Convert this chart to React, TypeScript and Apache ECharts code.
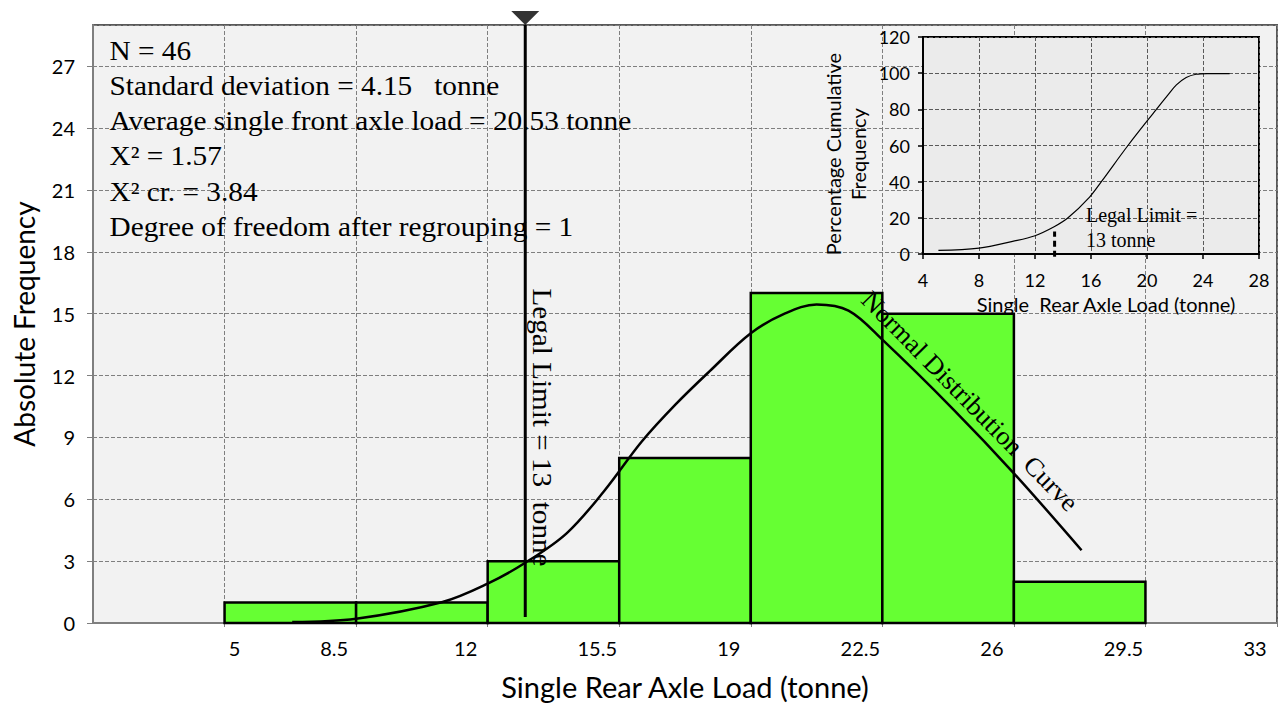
import React, { useEffect, useRef } from "react";
import * as echarts from "echarts";

// Histogram bins (tonne) and absolute frequencies
const binStarts = [5, 8.5, 12, 15.5, 19, 22.5, 26];
const binEnds = [8.5, 12, 15.5, 19, 22.5, 26, 29.5];
const frequencies = [1, 1, 3, 8, 16, 15, 2];

// Normal distribution curve
const normalX = [6.8, 8.5, 10.8, 12, 13, 14.1, 15.1, 16.1, 17, 17.9, 19, 19.9, 20.75, 21.6, 22.5, 24.4, 26, 27.8];
const normalY = [0.05, 0.21, 1.02, 1.91, 2.92, 4.35, 6.4, 8.8, 10.6, 12.2, 14.05, 15.0, 15.45, 15.15, 13.74, 10.34, 7.26, 3.53];

// Inset cumulative frequency curve
const cumX = [5.1, 8, 10.4, 12, 13.4, 14.36, 15.9, 16.74, 18.64, 20.67, 21.5, 22.1, 22.8, 23.5, 24.3, 25.9];
const cumY = [2, 3.3, 7, 10.1, 15.2, 20, 31.5, 40, 60, 80, 88, 93.5, 97.6, 99.4, 99.8, 99.8];

const legalLimit = 13;
const legalLineBottom = 0.29;
const insetLegalLimit = 13.4;
const insetLegalTop = 12.5;

const statsLines = [
  "N = 46",
  "Standard deviation = 4.15   tonne",
  "Average single front axle load = 20.53 tonne",
  "X² = 1.57",
  "X² cr. = 3.84",
  "Degree of freedom after regrouping = 1",
];

const SANS = "Lato, 'Open Sans', sans-serif";
const SERIF = "'Liberation Serif', 'Times New Roman', serif";

export default function App() {
  const ref = useRef<HTMLDivElement>(null);

  useEffect(() => {
    if (!ref.current) return;
    const chart = echarts.init(ref.current, null, { renderer: "svg" });

    const option: any = {
      animation: false,
      backgroundColor: "#ffffff",
      grid: [
        {
          left: 93,
          top: 25,
          right: 3,
          bottom: 83,
          show: true,
          backgroundColor: "#f2f2f2",
          borderColor: "#595959",
          borderWidth: 2,
          z: 0,
        },
        {
          left: 923,
          top: 37,
          width: 336,
          height: 217,
          show: true,
          backgroundColor: "#ebebeb",
          borderColor: "#000",
          borderWidth: 2,
          z: 1,
        },
      ],
      xAxis: [
        {
          type: "value",
          gridIndex: 0,
          min: 1.5,
          max: 33,
          interval: 3.5,
          name: "Single Rear Axle Load (tonne)",
          nameLocation: "middle",
          nameGap: 49,
          nameTextStyle: { fontFamily: SANS, fontSize: 29, color: "#000" },
          axisLine: { show: true, lineStyle: { color: "#7f7f7f", width: 2 } },
          axisTick: { show: true, length: 6, lineStyle: { color: "#7f7f7f", type: "dashed" } },
          splitLine: { show: true, lineStyle: { color: "#7f7f7f", type: "dashed", width: 1 } },
          axisLabel: {
            showMinLabel: false,
            margin: 15,
            formatter: (v: number) => (v === 1.5 ? "" : v === 5 ? "{f|5}" : "{n|" + v + "}"),
            rich: {
              n: { fontFamily: SANS, fontSize: 20, color: "#000", padding: [0, 44, 0, 0] },
              f: { fontFamily: SANS, fontSize: 20, color: "#000", padding: [0, 0, 0, 20] },
            },
          },
        },
        {
          type: "value",
          gridIndex: 1,
          min: 4,
          max: 28,
          interval: 4,
          z: 2,
          name: "Single  Rear Axle Load (tonne)",
          nameLocation: "middle",
          nameGap: 40,
          nameTextStyle: { fontFamily: SANS, fontSize: 20, color: "#000", padding: [0, 0, 0, 30] },
          axisLine: { show: true, lineStyle: { color: "#000", width: 2 } },
          axisTick: { show: true, length: 5, lineStyle: { color: "#000", width: 1.5 } },
          splitLine: { show: true, lineStyle: { color: "#595959", type: "dashed", width: 1 } },
          axisLabel: { fontFamily: SANS, fontSize: 18, color: "#000", margin: 17 },
        },
      ],
      yAxis: [
        {
          type: "value",
          gridIndex: 0,
          min: 0,
          max: 29,
          interval: 3,
          name: "Absolute Frequency",
          nameLocation: "middle",
          nameGap: 55,
          nameTextStyle: { fontFamily: SANS, fontSize: 28, color: "#000" },
          axisLine: { show: true, lineStyle: { color: "#7f7f7f", width: 2 } },
          axisTick: { show: true, length: 6, lineStyle: { color: "#7f7f7f" } },
          splitLine: { show: true, lineStyle: { color: "#7f7f7f", type: "dashed", width: 1 } },
          axisLabel: { fontFamily: SANS, fontSize: 20, color: "#000", margin: 18, showMaxLabel: false },
        },
        {
          type: "value",
          gridIndex: 1,
          min: 0,
          max: 120,
          interval: 20,
          z: 2,
          axisLine: { show: true, lineStyle: { color: "#000", width: 2 } },
          axisTick: { show: true, length: 5, lineStyle: { color: "#000", width: 1.5 } },
          splitLine: { show: true, lineStyle: { color: "#595959", type: "dashed", width: 1 } },
          axisLabel: { fontFamily: SANS, fontSize: 18, color: "#000", margin: 13 },
        },
      ],
      series: [
        {
          type: "custom",
          xAxisIndex: 0,
          yAxisIndex: 0,
          z: 2,
          data: binStarts.map((s, i) => [s, binEnds[i], frequencies[i]]),
          encode: { x: [0, 1], y: 2 },
          renderItem: (_params: any, api: any) => {
            const p0 = api.coord([api.value(0), api.value(2)]);
            const p1 = api.coord([api.value(1), 0]);
            return {
              type: "rect",
              shape: { x: p0[0], y: p0[1], width: p1[0] - p0[0], height: p1[1] - p0[1] },
              style: { fill: "#66ff33", stroke: "#000", lineWidth: 2.5 },
            };
          },
        },
        {
          type: "line",
          xAxisIndex: 0,
          yAxisIndex: 0,
          z: 3,
          smooth: 0.35,
          symbol: "none",
          data: normalX.map((x, i) => [x, normalY[i]]),
          lineStyle: { color: "#000", width: 2.5 },
        },
        {
          type: "line",
          xAxisIndex: 0,
          yAxisIndex: 0,
          z: 4,
          symbol: "none",
          data: [
            [legalLimit, legalLineBottom],
            [legalLimit, 29],
          ],
          lineStyle: { color: "#000", width: 3 },
        },
        {
          type: "scatter",
          xAxisIndex: 0,
          yAxisIndex: 0,
          z: 5,
          clip: false,
          symbol: "triangle",
          symbolRotate: 180,
          symbolSize: [28, 14],
          symbolOffset: [0, -7],
          itemStyle: { color: "#000" },
          data: [[legalLimit, 29]],
        },
        {
          type: "line",
          xAxisIndex: 1,
          yAxisIndex: 1,
          z: 6,
          smooth: 0.35,
          symbol: "none",
          data: cumX.map((x, i) => [x, cumY[i]]),
          lineStyle: { color: "#000", width: 1.2 },
        },
        {
          type: "line",
          xAxisIndex: 1,
          yAxisIndex: 1,
          z: 6,
          clip: false,
          symbol: "none",
          data: [
            [insetLegalLimit, -1.5],
            [insetLegalLimit, insetLegalTop],
          ],
          lineStyle: { color: "#000", width: 3, type: [6, 4] },
        },
      ],
      graphic: [
        {
          type: "text",
          x: 109.5,
          y: 33,
          scaleX: 1.085,
          z: 10,
          style: {
            text: statsLines.join("\n"),
            fontFamily: SERIF,
            fontSize: 27,
            lineHeight: 35.2,
            fill: "#000",
            align: "left",
            verticalAlign: "top",
            textAlign: "left",
            textVerticalAlign: "top",
          },
        },
        {
          type: "text",
          x: 542,
          y: 427.5,
          rotation: -Math.PI / 2,
          scaleX: 1.08,
          z: 10,
          style: {
            text: "Legal Limit = 13  tonne",
            fontFamily: SERIF,
            fontSize: 27,
            fill: "#000",
            align: "center",
            verticalAlign: "middle",
            textAlign: "center",
            textVerticalAlign: "middle",
          },
        },
        {
          type: "text",
          x: 970,
          y: 401,
          rotation: -0.794,
          scaleX: 1.03,
          z: 10,
          style: {
            text: "Normal Distribution  Curve",
            fontFamily: SERIF,
            fontSize: 26,
            fill: "#000",
            align: "center",
            verticalAlign: "middle",
            textAlign: "center",
            textVerticalAlign: "middle",
          },
        },
        {
          type: "text",
          x: 1086,
          y: 202,
          z: 10,
          style: {
            text: "Legal Limit =\n13 tonne",
            fontFamily: SERIF,
            fontSize: 20,
            lineHeight: 25,
            fill: "#000",
            align: "left",
            verticalAlign: "top",
            textAlign: "left",
            textVerticalAlign: "top",
          },
        },
        {
          type: "text",
          x: 845.5,
          y: 154,
          rotation: Math.PI / 2,
          z: 10,
          style: {
            text: "Percentage Cumulative\nFrequency",
            fontFamily: SANS,
            fontSize: 20,
            lineHeight: 25,
            fill: "#000",
            align: "center",
            verticalAlign: "middle",
            textAlign: "center",
            textVerticalAlign: "middle",
          },
        },
      ],
    };

    chart.setOption(option);
    return () => chart.dispose();
  }, []);

  return (
    <div
      ref={ref}
      style={{ position: "absolute", left: 0, top: 0, width: 1280, height: 706 }}
    />
  );
}
